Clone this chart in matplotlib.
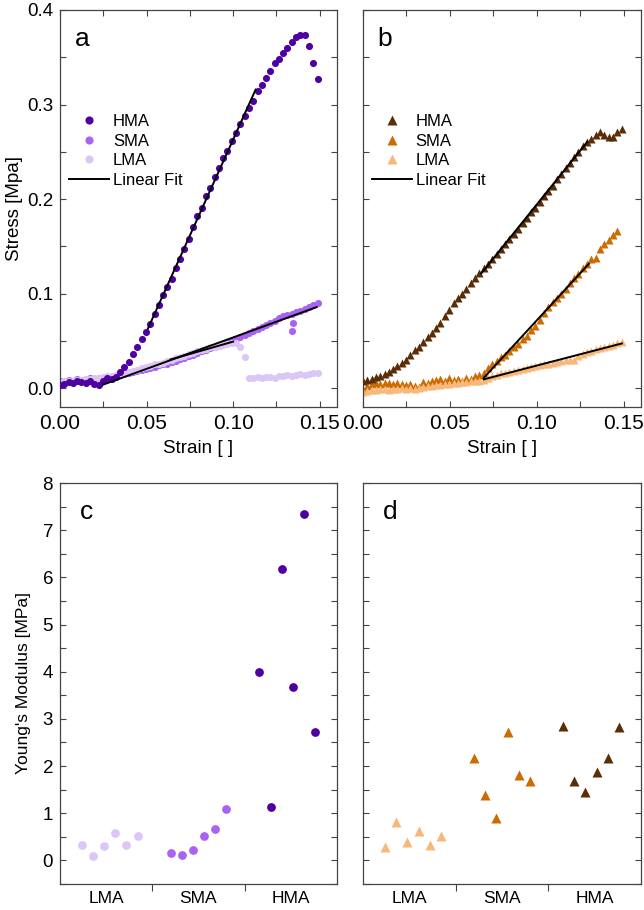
import numpy as np
import matplotlib.pyplot as plt
from matplotlib.ticker import MultipleLocator, FixedLocator, FormatStrFormatter, NullFormatter

plt.rcParams['font.family'] = ['Liberation Sans', 'DejaVu Sans']

# strain sampling shared by the stress-strain curves
strain = [0.0000, 0.0025, 0.0050, 0.0074, 0.0099, 0.0124, 0.0149, 0.0174, 0.0198, 0.0223,
          0.0248, 0.0273, 0.0298, 0.0322, 0.0347, 0.0372, 0.0397, 0.0422, 0.0446, 0.0471,
          0.0496, 0.0521, 0.0546, 0.0570, 0.0595, 0.0620, 0.0645, 0.0670, 0.0694, 0.0719,
          0.0744, 0.0769, 0.0794, 0.0818, 0.0843, 0.0868, 0.0893, 0.0918, 0.0942, 0.0967,
          0.0992, 0.1017, 0.1042, 0.1066, 0.1091, 0.1116, 0.1141, 0.1166, 0.1190, 0.1215,
          0.1240, 0.1265, 0.1290, 0.1314, 0.1339, 0.1364, 0.1389, 0.1414, 0.1438, 0.1463,
          0.1488]

# panel a (circles)
hma_a = [0.003, 0.004, 0.006, 0.005, 0.007, 0.006, 0.005, 0.007, 0.004, 0.003,
         0.008, 0.011, 0.010, 0.012, 0.017, 0.022, 0.028, 0.036, 0.044, 0.052,
         0.059, 0.068, 0.078, 0.088, 0.098, 0.107, 0.115, 0.127, 0.137, 0.147,
         0.158, 0.170, 0.182, 0.191, 0.203, 0.212, 0.223, 0.233, 0.243, 0.251,
         0.261, 0.270, 0.279, 0.288, 0.296, 0.304, 0.314, 0.321, 0.328, 0.335,
         0.344, 0.348, 0.354, 0.360, 0.366, 0.371, 0.374, 0.374, 0.362, 0.344,
         0.327]
sma_a = [0.007, 0.008, 0.009, 0.008, 0.010, 0.009, 0.010, 0.011, 0.010, 0.011,
         0.011, 0.012, 0.012, 0.013, 0.014, 0.015, 0.016, 0.017, 0.018, 0.019,
         0.020, 0.021, 0.022, 0.024, 0.025, 0.026, 0.028, 0.029, 0.031, 0.032,
         0.034, 0.035, 0.037, 0.039, 0.040, 0.042, 0.044, 0.045, 0.047, 0.049,
         0.050, 0.052, 0.054, 0.056, 0.058, 0.060, 0.063, 0.065, 0.067, 0.069,
         0.071, 0.074, 0.076, 0.077, 0.078, 0.080, 0.082, 0.084, 0.086, 0.088,
         0.090]
sma_a_drop_strain = [0.1345, 0.1342]
sma_a_drop_stress = [0.069, 0.060]
lma_a = [0.006, 0.007, 0.008, 0.008, 0.009, 0.009, 0.010, 0.010, 0.011, 0.011,
         0.012, 0.013, 0.013, 0.014, 0.015, 0.016, 0.017, 0.018, 0.019, 0.021,
         0.022, 0.023, 0.025, 0.026, 0.027, 0.029, 0.030, 0.032, 0.033, 0.034,
         0.036, 0.037, 0.039, 0.040, 0.041, 0.043, 0.044, 0.045, 0.046, 0.047,
         0.048, 0.048, 0.044, 0.033, 0.011, 0.011, 0.012, 0.011, 0.012, 0.012,
         0.011, 0.013, 0.013, 0.014, 0.013, 0.014, 0.015, 0.014, 0.015, 0.016,
         0.016]

# panel b (triangles)
hma_b = [0.007, 0.009, 0.010, 0.012, 0.013, 0.015, 0.017, 0.020, 0.023, 0.027,
         0.030, 0.035, 0.040, 0.044, 0.049, 0.054, 0.058, 0.064, 0.069, 0.076,
         0.083, 0.090, 0.095, 0.100, 0.105, 0.111, 0.116, 0.122, 0.127, 0.131,
         0.137, 0.142, 0.147, 0.152, 0.158, 0.163, 0.168, 0.175, 0.180, 0.186,
         0.191, 0.197, 0.203, 0.209, 0.214, 0.221, 0.227, 0.233, 0.238, 0.244,
         0.250, 0.256, 0.260, 0.264, 0.268, 0.271, 0.268, 0.266, 0.266, 0.271,
         0.274]
sma_b = [-0.002, 0.002, 0.004, 0.005, 0.004, 0.005, 0.005, 0.004, 0.005, 0.004,
         0.003, 0.004, 0.002, 0.001, 0.006, 0.005, 0.008, 0.009, 0.010, 0.008,
         0.011, 0.009, 0.010, 0.008, 0.011, 0.010, 0.013, 0.014, 0.016, 0.021,
         0.025, 0.029, 0.033, 0.035, 0.039, 0.043, 0.047, 0.052, 0.055, 0.061,
         0.066, 0.072, 0.079, 0.086, 0.091, 0.095, 0.100, 0.105, 0.111, 0.116,
         0.121, 0.127, 0.131, 0.137, 0.138, 0.147, 0.152, 0.157, 0.162, 0.166]
lma_b = [-0.004, -0.003, -0.002, -0.002, -0.001, -0.001, -0.002, -0.001, -0.001, 0.000,
         -0.001, 0.000, -0.001, 0.000, 0.001, 0.002, 0.002, 0.003, 0.003, 0.004,
         0.004, 0.005, 0.005, 0.006, 0.006, 0.007, 0.007, 0.008, 0.009, 0.011,
         0.013, 0.014, 0.016, 0.016, 0.017, 0.018, 0.019, 0.020, 0.021, 0.022,
         0.023, 0.024, 0.025, 0.026, 0.027, 0.028, 0.029, 0.030, 0.030, 0.030,
         0.034, 0.036, 0.038, 0.039, 0.041, 0.042, 0.044, 0.045, 0.046, 0.048,
         0.049]

# strain windows used for the linear fits
fit_a = {'HMA': (0.0508, 0.113), 'SMA': (0.025, 0.1483), 'LMA': (0.0637, 0.100)}
fit_b = {'HMA': (0.068, 0.129), 'SMA': (0.0695, 0.130), 'LMA': (0.0695, 0.149)}

# Young's modulus per sample
groups = ['LMA', 'SMA', 'HMA']
modulus_c = {'LMA': [0.32, 0.09, 0.31, 0.59, 0.32, 0.52],
             'SMA': [0.16, 0.12, 0.22, 0.52, 0.67, 1.08],
             'HMA': [3.99, 1.14, 6.17, 3.67, 7.35, 2.73]}
modulus_d = {'LMA': [0.28, 0.82, 0.40, 0.63, 0.33, 0.52],
             'SMA': [2.17, 1.39, 0.90, 2.73, 1.82, 1.69],
             'HMA': [2.85, 1.69, 1.44, 1.87, 2.17, 2.83]}

purple = {'HMA': '#4E00A0', 'SMA': '#A864F0', 'LMA': '#DCC6F6'}
brown = {'HMA': '#5A2D06', 'SMA': '#CD6A00', 'LMA': '#F8B878'}

W, H = 644, 910
fig = plt.figure(figsize=(W / 100, H / 100), dpi=100)


def box(l, t, r, b):
    return [l / W, 1 - b / H, (r - l) / W, (b - t) / H]


ax_a = fig.add_axes(box(60, 10, 337, 407))
ax_b = fig.add_axes(box(363, 10, 641, 407))
ax_c = fig.add_axes(box(60, 483, 337, 884))
ax_d = fig.add_axes(box(363, 483, 641, 884))

spine_col = '#444444'


def style_stress(ax, ylabels):
    ax.set_xlim(0, 0.16)
    ax.set_ylim(-0.02, 0.4)
    ax.xaxis.set_major_locator(MultipleLocator(0.05))
    ax.xaxis.set_minor_locator(MultipleLocator(0.025))
    ax.yaxis.set_major_locator(MultipleLocator(0.1))
    ax.yaxis.set_minor_locator(MultipleLocator(0.05))
    ax.xaxis.set_major_formatter(FormatStrFormatter('%.2f'))
    ax.yaxis.set_major_formatter(FormatStrFormatter('%.1f'))
    ax.tick_params(which='both', direction='in', top=True, right=True,
                   length=4.5, width=0.8, color=spine_col)
    ax.tick_params(axis='x', labelsize=15, pad=5)
    ax.tick_params(axis='y', labelsize=13.5, pad=5)
    if not ylabels:
        ax.yaxis.set_major_formatter(NullFormatter())
    ax.set_xlabel('Strain [ ]', fontsize=13.5, labelpad=5)
    for s in ax.spines.values():
        s.set_color(spine_col)
        s.set_linewidth(0.9)


def draw_fit(ax, x, y, lo, hi, label=None):
    x = np.asarray(x)
    y = np.asarray(y)
    m = (x >= lo) & (x <= hi)
    k, c = np.polyfit(x[m], y[m], 1)
    xs = np.array([lo, hi])
    ax.plot(xs, k * xs + c, color='black', lw=1.4, label=label, zorder=5)


# panel a
for name, vals in [('HMA', hma_a), ('SMA', sma_a), ('LMA', lma_a)]:
    ax_a.plot(strain[:len(vals)], vals, 'o', ms=5.1, color=purple[name],
              mec='none', label=name, zorder=3 if name == 'HMA' else 2)
ax_a.plot(sma_a_drop_strain, sma_a_drop_stress, 'o', ms=5.1, color=purple['SMA'], mec='none')
draw_fit(ax_a, strain, hma_a, *fit_a['HMA'], label='Linear Fit')
draw_fit(ax_a, strain, sma_a, *fit_a['SMA'])
draw_fit(ax_a, strain, lma_a, *fit_a['LMA'])
style_stress(ax_a, True)
ax_a.set_ylabel('Stress [Mpa]', fontsize=13.5, labelpad=3)

# panel b
for name, vals in [('HMA', hma_b), ('SMA', sma_b), ('LMA', lma_b)]:
    ax_b.plot(strain[:len(vals)], vals, '^', ms=5.8, color=brown[name],
              mec='none', label=name, zorder=3 if name == 'HMA' else 2)
draw_fit(ax_b, strain, hma_b, *fit_b['HMA'], label='Linear Fit')
draw_fit(ax_b, strain[:len(sma_b)], sma_b, *fit_b['SMA'])
draw_fit(ax_b, strain, lma_b, *fit_b['LMA'])
style_stress(ax_b, False)

for ax in (ax_a, ax_b):
    h, l = ax.get_legend_handles_labels()
    order = [l.index(n) for n in ['HMA', 'SMA', 'LMA', 'Linear Fit']]
    ax.legend([h[i] for i in order], [l[i] for i in order], loc='center left',
              bbox_to_anchor=(-0.02, 0.645), frameon=False, fontsize=12,
              labelspacing=0.28, handlelength=2.4, handletextpad=0.2,
              markerscale=1.15)


# panels c and d
def style_modulus(ax, ylabels):
    ax.set_xlim(0, 3)
    ax.set_ylim(-0.5, 8)
    ax.yaxis.set_major_locator(MultipleLocator(1))
    ax.yaxis.set_minor_locator(MultipleLocator(0.5))
    ax.tick_params(axis='y', which='both', direction='in', left=True, right=True,
                   length=4.5, width=0.8, color=spine_col, labelsize=13.5, pad=5)
    if not ylabels:
        ax.yaxis.set_major_formatter(NullFormatter())
    ax.xaxis.set_major_locator(FixedLocator([1, 2]))
    ax.xaxis.set_major_formatter(NullFormatter())
    ax.xaxis.set_minor_locator(FixedLocator([0.5, 1.5, 2.5]))
    ax.set_xticklabels(groups, minor=True)
    ax.tick_params(axis='x', which='major', direction='out', length=5, width=0.8,
                   color=spine_col)
    ax.tick_params(axis='x', which='minor', length=0, labelsize=12.5, pad=5)
    for s in ax.spines.values():
        s.set_color(spine_col)
        s.set_linewidth(0.9)


offsets = [0.24, 0.36, 0.48, 0.60, 0.72, 0.84]
group_start = {'LMA': 0.0, 'SMA': 0.96, 'HMA': 1.92}
for name in groups:
    xs = [group_start[name] + o for o in offsets]
    ax_c.plot(xs, modulus_c[name], 'o', ms=6.3, color=purple[name], mec='none')
    ax_d.plot(xs, modulus_d[name], '^', ms=7.2, color=brown[name], mec='none')
style_modulus(ax_c, True)
style_modulus(ax_d, False)
ax_c.set_ylabel("Young's Modulus [MPa]", fontsize=12.5, labelpad=8)

for ax, letter, xf in [(ax_a, 'a', 0.055), (ax_b, 'b', 0.05), (ax_c, 'c', 0.07), (ax_d, 'd', 0.07)]:
    ax.text(xf, 0.91, letter, transform=ax.transAxes, fontsize=19,
            va='baseline', ha='left')

fig.savefig('out.png', dpi=100)
